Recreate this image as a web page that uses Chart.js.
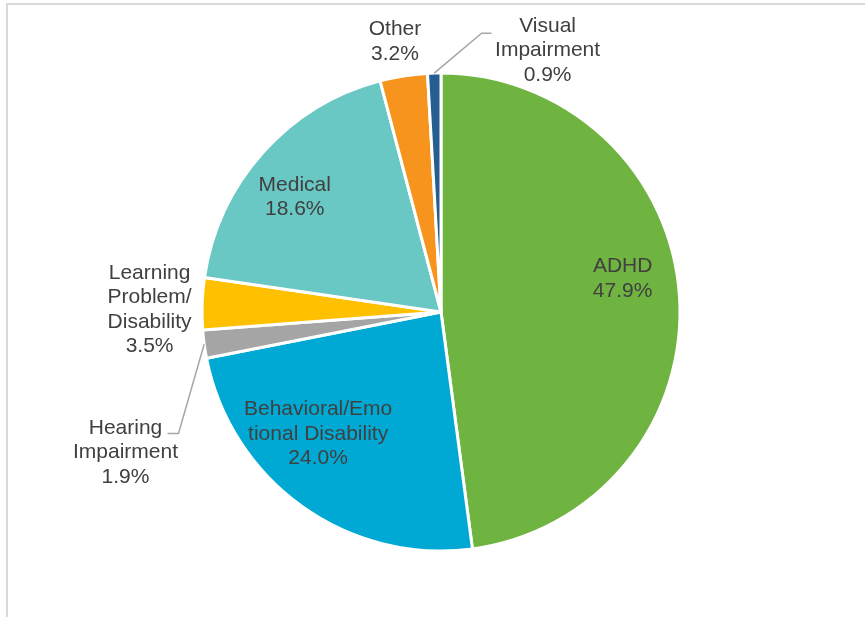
<!DOCTYPE html>
<html>
<head>
<meta charset="utf-8">
<script src="https://cdn.jsdelivr.net/npm/chart.js@4/dist/chart.umd.min.js"></script>
<style>
  html, body { margin: 0; padding: 0; background: #ffffff; }
  #wrap { position: relative; width: 865px; height: 617px; }
</style>
</head>
<body>
<div id="wrap"><canvas id="disability_chart" width="865" height="617"></canvas></div>
<script>
// slice data, clockwise from 12 o'clock
const categories = [
  ["ADHD"],
  ["Behavioral/Emo", "tional Disability"],
  ["Hearing", "Impairment"],
  ["Learning", "Problem/", "Disability"],
  ["Medical"],
  ["Other"],
  ["Visual", "Impairment"],
];
const percents = [47.9, 24.0, 1.9, 3.5, 18.6, 3.2, 0.9];
const slice_colors = ["#6fb441", "#00a9d3", "#a5a5a5", "#ffc000", "#69c7c4", "#f7941d", "#255e91"];

// where each label sits: r = fraction of radius along the mid angle, then a nudge
const label_layout = [
  { r: 0.77, dx: -2, dy: -21 },
  { r: 0.71, dx: -24, dy: -16 },
  { r: 1.1, dx: -55, dy: 105, leader: { elbow: [53, -19], end: [42, -19] } },
  { r: 1.22, dx: 0, dy: 8 },
  { r: 0.77, dx: -9, dy: 8 },
  { r: 1.15, dx: -3, dy: 1 },
  { r: 1.1, dx: 114, dy: 1, leader: { elbow: [-66, -17], end: [-56, -17] } },
];

const FONT = "21px 'Liberation Sans', Arial, sans-serif";
const LINE_H = 24.5;

const frame_plugin = {
  id: "frame",
  beforeDraw(chart) {
    const c = chart.ctx;
    c.save();
    c.strokeStyle = "#d9d9d9";
    c.lineWidth = 2;
    c.beginPath();
    c.moveTo(7, 617);
    c.lineTo(7, 4);
    c.lineTo(865, 4);
    c.stroke();
    c.restore();
  },
};

const label_plugin = {
  id: "slice_labels",
  afterDatasetsDraw(chart) {
    const c = chart.ctx;
    const arcs = chart.getDatasetMeta(0).data;
    c.save();
    c.font = FONT;
    c.fillStyle = "#404040";
    c.textAlign = "center";
    c.textBaseline = "middle";
    arcs.forEach((arc, i) => {
      const { x, y, startAngle, endAngle, outerRadius } = arc.getProps(
        ["x", "y", "startAngle", "endAngle", "outerRadius"], true);
      const mid = (startAngle + endAngle) / 2;
      const lay = label_layout[i];
      const ax = x + Math.cos(mid) * outerRadius * lay.r + lay.dx;
      const ay = y + Math.sin(mid) * outerRadius * lay.r + lay.dy;
      const lines = categories[i].concat([percents[i].toFixed(1) + "%"]);
      const top = ay - (lines.length - 1) * LINE_H / 2;
      lines.forEach((t, k) => c.fillText(t, ax, top + k * LINE_H));

      if (lay.leader) {
        c.strokeStyle = "#a6a6a6";
        c.lineWidth = 1.5;
        c.beginPath();
        c.moveTo(x + Math.cos(mid) * outerRadius, y + Math.sin(mid) * outerRadius);
        c.lineTo(ax + lay.leader.elbow[0], ay + lay.leader.elbow[1]);
        c.lineTo(ax + lay.leader.end[0], ay + lay.leader.end[1]);
        c.stroke();
      }
    });
    c.restore();
  },
};

const ctx = document.getElementById("disability_chart").getContext("2d");
new Chart(ctx, {
  type: "pie",
  data: {
    labels: categories.map((l) => l.join(" ")),
    datasets: [
      {
        data: percents,
        backgroundColor: slice_colors,
        borderColor: "#ffffff",
        borderWidth: 3,
      },
    ],
  },
  options: {
    responsive: false,
    animation: false,
    radius: 239,
    layout: { padding: { left: 202, right: 185, top: 73, bottom: 66 } },
    plugins: {
      legend: { display: false },
      tooltip: { enabled: false },
    },
  },
  plugins: [frame_plugin, label_plugin],
});
</script>
</body>
</html>
